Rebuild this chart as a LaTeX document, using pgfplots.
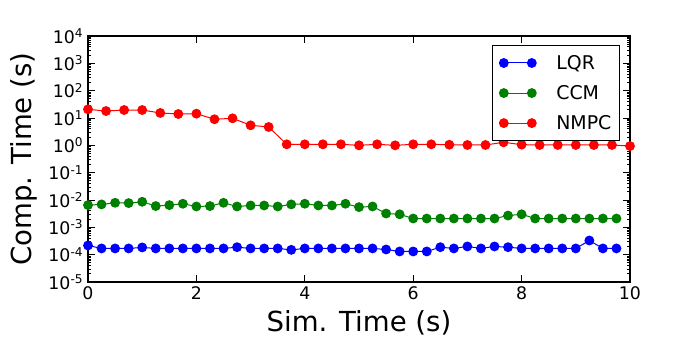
\documentclass[border=0pt]{standalone}
\usepackage{fontspec}
\setmainfont{DejaVu Sans}
\usepackage{pgfplots}
\pgfplotsset{compat=1.18}

\begin{document}
\begin{tikzpicture}
\begin{axis}[
    scale only axis,
    width=406.5pt,
    height=184.5pt,
    ymode=log,
    xmin=0, xmax=10,
    ymin=1e-5, ymax=1e4,
    xtick={0,2,4,6,8,10},
    ytick={1e-5,1e-4,1e-3,1e-2,1e-1,1e0,1e1,1e2,1e3,1e4},
    yticklabels={10\textsuperscript{-5},10\textsuperscript{-4},10\textsuperscript{-3},10\textsuperscript{-2},10\textsuperscript{-1},10\textsuperscript{0},10\textsuperscript{1},10\textsuperscript{2},10\textsuperscript{3},10\textsuperscript{4}},
    /pgf/number format/assume math mode=true,
    ticklabel style={font=\fontsize{13}{15}\selectfont},
    xlabel={Sim. Time (s)},
    ylabel={Comp. Time (s)},
    label style={font=\fontsize{20.7}{24}\selectfont},
    x label style={at={(axis description cs:0.5,-0.167)}, anchor=center},
    y label style={at={(axis description cs:-0.118,0.5)}, anchor=center},
    major tick length=5pt,
    minor tick length=2.5pt,
    tick style={black, line width=0.6pt},
    axis line style={line width=0.8pt},
    legend style={at={(0.9815,0.963)}, anchor=north east, draw=black, line width=0.8pt,
        font=\fontsize{14.2}{17}\selectfont, row sep=6.5pt, inner xsep=4pt, inner ysep=5pt},
    legend cell align=left,
    legend image code/.code={%
        \path (-4pt,0pt) (37pt,0pt);
        \draw[#1] plot coordinates {(0pt,0pt) (21pt,0pt)};},
    every axis plot/.append style={line width=0.75pt, mark=*, mark size=3.3pt,
        mark options={draw=black!80, line width=0.4pt}},
]
\addplot[color=blue, mark options={fill=blue}] coordinates {
(0,2.17e-4) (0.25,1.69e-4) (0.5,1.69e-4) (0.75,1.69e-4) (1.0,1.84e-4)
(1.25,1.69e-4) (1.5,1.69e-4) (1.75,1.69e-4) (2.0,1.69e-4) (2.25,1.69e-4)
(2.5,1.69e-4) (2.75,1.88e-4) (3.0,1.69e-4) (3.25,1.69e-4) (3.5,1.69e-4)
(3.75,1.50e-4) (4.0,1.69e-4) (4.25,1.69e-4) (4.5,1.69e-4) (4.75,1.69e-4)
(5.0,1.69e-4) (5.25,1.69e-4) (5.5,1.55e-4) (5.75,1.31e-4) (6.0,1.31e-4)
(6.25,1.31e-4) (6.5,1.88e-4) (6.75,1.69e-4) (7.0,2.0e-4) (7.25,1.69e-4)
(7.5,2.0e-4) (7.75,1.88e-4) (8.0,1.69e-4) (8.25,1.69e-4) (8.5,1.69e-4)
(8.75,1.69e-4) (9.0,1.69e-4) (9.25,3.3e-4) (9.5,1.69e-4) (9.75,1.69e-4)
};
\addlegendentry{LQR}
\addplot[color=green!50!black, mark options={fill=green!50!black}] coordinates {
(0,0.0065) (0.25,0.0069) (0.5,0.0079) (0.75,0.0077) (1.0,0.0086)
(1.25,0.0060) (1.5,0.0065) (1.75,0.0073) (2.0,0.0058) (2.25,0.0060)
(2.5,0.0079) (2.75,0.0058) (3.0,0.0063) (3.25,0.0063) (3.5,0.0058)
(3.75,0.0069) (4.0,0.0073) (4.25,0.0063) (4.5,0.0063) (4.75,0.0073)
(5.0,0.0055) (5.25,0.0058) (5.5,0.0032) (5.75,0.0030) (6.0,0.0021)
(6.25,0.0021) (6.5,0.0021) (6.75,0.0021) (7.0,0.0021) (7.25,0.0021)
(7.5,0.0021) (7.75,0.0027) (8.0,0.0030) (8.25,0.0021) (8.5,0.0021)
(8.75,0.0021) (9.0,0.0021) (9.25,0.0021) (9.5,0.0021) (9.75,0.0021)
};
\addlegendentry{CCM}
\addplot[color=red, mark options={fill=red}] coordinates {
(0,20.8) (0.3333,18.0) (0.6667,19.6) (1.0,19.6) (1.3333,15.3) (1.6667,14.0)
(2.0,14.4) (2.3333,9.0) (2.6667,9.75) (3.0,5.4) (3.3333,4.7) (3.6667,1.09)
(4.0,1.09) (4.3333,1.09) (4.6667,1.09) (5.0,1.0) (5.3333,1.09) (5.6667,1.0)
(6.0,1.09) (6.3333,1.09) (6.6667,1.05) (7.0,1.03) (7.3333,1.03) (7.6667,1.29)
(8.0,1.06) (8.3333,1.03) (8.6667,1.03) (9.0,1.03) (9.3333,1.03) (9.6667,1.03)
(10.0,0.94)
};
\addlegendentry{NMPC}
\end{axis}
\path (current axis.south west) ++(-66pt,-51pt);
\path (current axis.north east) ++(52.5pt,27pt);
\end{tikzpicture}
\end{document}
